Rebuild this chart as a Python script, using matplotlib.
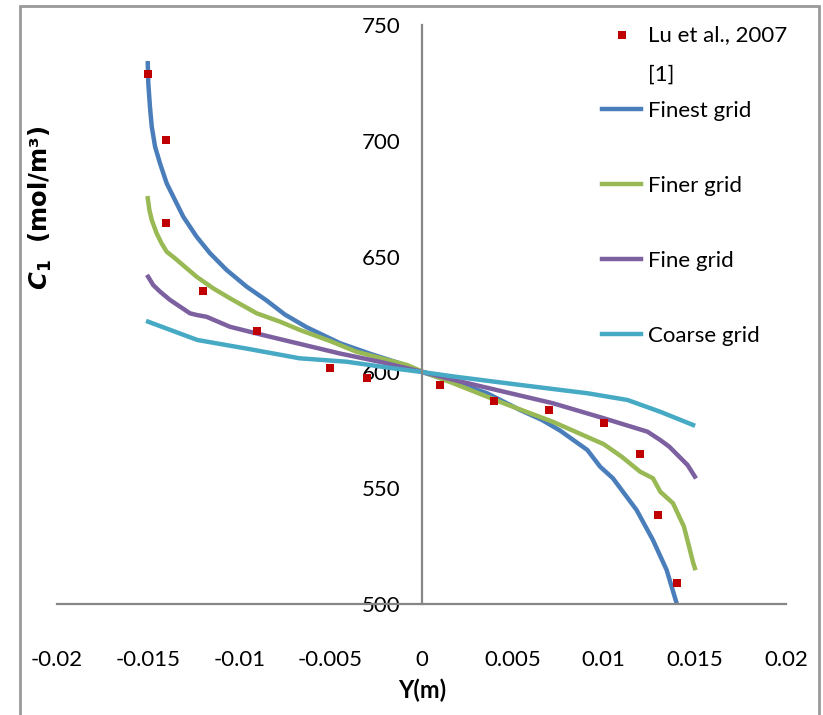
import matplotlib.pyplot as plt
from matplotlib.lines import Line2D
from matplotlib.patches import Rectangle

plt.rcParams['font.family'] = ['Lato', 'DejaVu Sans']
plt.rcParams['mathtext.fontset'] = 'dejavusans'

# Lu et al., 2007 [1] data points
lu_x = [-0.015, -0.014, -0.014, -0.012, -0.009, -0.005, -0.003, 0.001, 0.004, 0.007, 0.010, 0.012, 0.013, 0.014]
lu_y = [728.8, 700.3, 664.6, 635.3, 618.0, 602.0, 597.7, 594.5, 587.8, 583.8, 578.0, 564.9, 538.4, 508.9]

# simulated profiles
finest_x = [-0.01502, -0.01499, -0.0149, -0.0148, -0.01462, -0.01435, -0.01398, -0.01362, -0.01307,
            -0.01234, -0.0116, -0.01069, -0.00959, -0.00849, -0.0075, -0.0063, -0.00447, -0.0028,
            -0.00118, 0.0, 0.0018, 0.0036, 0.0054, 0.0066, 0.0076, 0.0091, 0.0098, 0.0105, 0.0118,
            0.0127, 0.01345, 0.0140, 0.0142]
finest_y = [733.5, 724.8, 714.7, 706.1, 697.5, 690.3, 681.6, 675.9, 667.2,
            658.6, 651.4, 644.2, 637.0, 631.0, 625.0, 619.5, 612.6, 608.0,
            603.9, 600.2, 595.8, 591.0, 583.8, 579.5, 574.9, 566.5, 559.3, 554.3, 540.6,
            527.6, 514.7, 500.3, 494.0]

finer_x = [-0.01502, -0.01493, -0.0148, -0.01453, -0.01426, -0.01398, -0.01353, -0.01298, -0.01234,
           -0.01143, -0.01051, -0.00904, -0.00776, -0.00667, -0.0050, -0.0036, -0.0008, 0.0, 0.00175,
           0.0045, 0.0072, 0.0100, 0.0110, 0.0120, 0.0127, 0.0131, 0.0138, 0.0144, 0.0149, 0.0150]
finer_y = [675.2, 670.1, 665.8, 660.0, 655.7, 652.1, 649.3, 645.6, 641.3,
           636.3, 632.0, 625.5, 621.9, 618.3, 613.5, 609.0, 603.2, 600.5, 595.3,
           586.7, 578.7, 569.0, 563.5, 557.1, 554.3, 548.5, 543.5, 533.4, 518.0, 515.5]

fine_x = [-0.015, -0.01472, -0.01435, -0.0138, -0.01325, -0.0127, -0.01234, -0.01179, -0.01051,
          -0.00868, -0.0072, -0.0045, -0.0023, 0.0, 0.0018, 0.0045, 0.0072, 0.0100, 0.0124, 0.0131,
          0.0136, 0.0146, 0.0150]
fine_y = [641.3, 637.7, 634.9, 631.3, 628.4, 625.5, 624.8, 624.0, 619.7,
          616.1, 613.3, 608.2, 604.6, 600.3, 596.7, 591.7, 586.7, 580.2, 574.4, 570.8,
          567.9, 560.0, 555.0]

coarse_x = [-0.015, -0.0123, -0.0094, -0.0067, -0.0041, -0.0016, 0.0, 0.0018, 0.0054, 0.0091,
            0.0113, 0.0131, 0.0149]
coarse_y = [621.9, 614.0, 610.0, 606.1, 604.6, 601.8, 600.2, 598.2, 594.6, 591.0,
            588.1, 583.0, 577.3]

x_ticks = [-0.02, -0.015, -0.01, -0.005, 0, 0.005, 0.01, 0.015, 0.02]
x_ticklabels = ['-0.02', '-0.015', '-0.01', '-0.005', '0', '0.005', '0.01', '0.015', '0.02']
y_ticks = [500, 550, 600, 650, 700, 750]

fig = plt.figure(figsize=(8.23, 7.15), dpi=100)
ax = fig.add_axes([57 / 823, 111 / 715, 729 / 823, 579 / 715])

sc = ax.scatter(lu_x, lu_y, marker='s', s=34, color='#C00000', zorder=5, linewidths=0,
                label='Lu et al., 2007')
l1, = ax.plot(finest_x, finest_y, color='#4A7EBB', lw=3.2, label='Finest grid')
l2, = ax.plot(finer_x, finer_y, color='#98B954', lw=3.2, label='Finer grid')
l3, = ax.plot(fine_x, fine_y, color='#7D60A0', lw=3.2, label='Fine grid')
l4, = ax.plot(coarse_x, coarse_y, color='#46AAC5', lw=3.2, label='Coarse grid')

ax.set_xlim(-0.02, 0.02)
ax.set_ylim(500, 750)
ax.set_xticks(x_ticks)
ax.set_xticklabels(x_ticklabels)
ax.set_yticks(y_ticks)

ax.spines['left'].set_position(('data', 0))
ax.spines['top'].set_visible(False)
ax.spines['right'].set_visible(False)
for s in ('left', 'bottom'):
    ax.spines[s].set_color('#868686')
    ax.spines[s].set_linewidth(1.6)
ax.tick_params(axis='both', length=0, labelsize=16)
ax.tick_params(axis='x', pad=33)
ax.tick_params(axis='y', pad=15)

fig.text(422 / 823, 1 - 690 / 715, 'Y(m)', ha='center', va='center', fontsize=17, fontweight='bold')
fig.text(40 / 823, 1 - 208 / 715, r'$\mathbfit{C}_\mathbf{1}$  (mol/m³)', rotation=90,
         ha='center', va='center', fontsize=17.5, fontweight='bold', family='DejaVu Sans')

ref_blank = Line2D([], [], linestyle='none', label='[1]')
leg1 = fig.legend(handles=[sc, ref_blank], loc='upper left', bbox_to_anchor=(602 / 823, 1 - 25 / 715),
                  frameon=False, fontsize=16, handlelength=1.76, handletextpad=0.3,
                  borderpad=0, borderaxespad=0, scatterpoints=1, labelspacing=0.87)
fig.legend(handles=[l1, l2, l3, l4], loc='upper left', bbox_to_anchor=(602 / 823, 1 - 101 / 715),
           frameon=False, fontsize=16, handlelength=1.76, handletextpad=0.3,
           borderpad=0, borderaxespad=0, labelspacing=2.47)

fig.add_artist(Rectangle((20 / 823, -0.02), 799 / 823, 1.02 - 6 / 715, transform=fig.transFigure,
                         fill=False, edgecolor='#999999', lw=2))

fig.savefig('out.png', dpi=100)
